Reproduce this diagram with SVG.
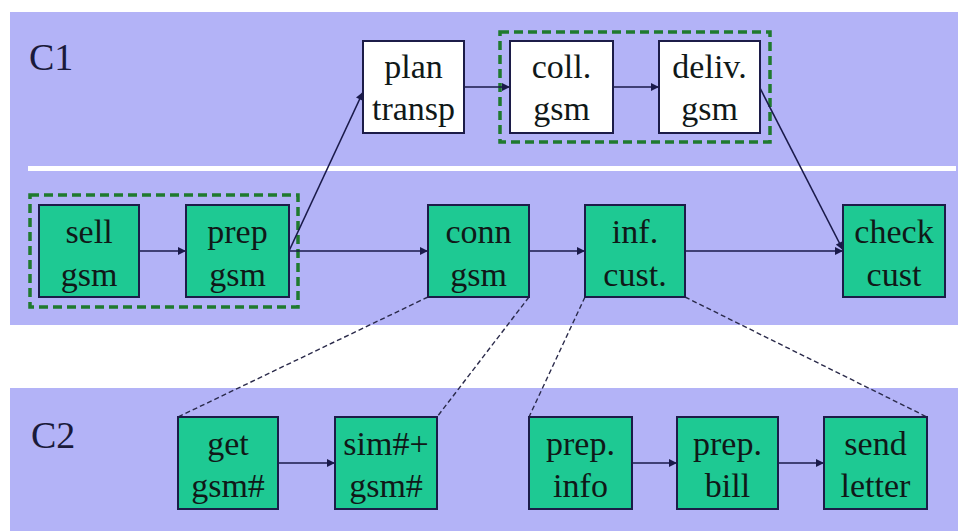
<svg xmlns="http://www.w3.org/2000/svg" width="958" height="531" viewBox="0 0 958 531">
<defs>
<marker id="ah" viewBox="0 0 10 10" refX="10" refY="5" markerWidth="9" markerHeight="8" orient="auto" markerUnits="userSpaceOnUse">
<path d="M0,0 L10,5 L0,10 z" fill="#1a1a4a"/>
</marker>
<style>
.band{fill:#b3b3f7}
.n rect{stroke:#1c1c48;stroke-width:2}
.g rect{fill:#1ec993}
.w rect{fill:#ffffff}
text{font-family:'Times New Roman','Liberation Serif',Tinos,'Nimbus Roman','Nimbus Roman No9 L',FreeSerif,'Noto Serif','DejaVu Serif',Times,serif}
.n text{font-size:34px;text-anchor:middle;fill:#101818}
.lbl{font-size:38px;fill:#1a1a3a}
.flow{stroke:#1a1a4a;stroke-width:1.6;fill:none;marker-end:url(#ah)}
.dec{stroke:#2a2a4a;stroke-width:1.4;fill:none;stroke-dasharray:5,3}
.grp{fill:none;stroke:#1f7a2e;stroke-width:3.5;stroke-dasharray:9,5}
</style>
</defs>
<rect width="958" height="531" fill="#ffffff"/>
<rect class="band" x="10" y="12" width="948" height="313"/>
<rect x="28" y="166" width="928" height="5" fill="#ffffff"/>
<rect class="band" x="10" y="388" width="948" height="143"/>
<text class="lbl" x="29" y="70">C1</text>
<text class="lbl" x="31" y="448">C2</text>
<g id="groups">
<rect class="grp" x="500" y="32" width="270" height="110"/>
<rect class="grp" x="30" y="195" width="268" height="112"/>
</g>
<g id="connectors">
<line class="flow" x1="139" y1="251" x2="186" y2="251"/>
<line class="flow" x1="289" y1="251" x2="428" y2="251"/>
<line class="flow" x1="289" y1="251" x2="363" y2="92"/>
<line class="flow" x1="464" y1="87" x2="510" y2="87"/>
<line class="flow" x1="613" y1="87" x2="659" y2="87"/>
<line class="flow" x1="760" y1="88" x2="843" y2="250"/>
<line class="flow" x1="529" y1="251" x2="585" y2="251"/>
<line class="flow" x1="685" y1="251" x2="843" y2="251"/>
<line class="flow" x1="278" y1="463" x2="335" y2="463"/>
<line class="flow" x1="632" y1="463" x2="677" y2="463"/>
<line class="flow" x1="778" y1="463" x2="824" y2="463"/>
<line class="dec" x1="428" y1="297" x2="178" y2="417"/>
<line class="dec" x1="529" y1="297" x2="437" y2="417"/>
<line class="dec" x1="585" y1="297" x2="529" y2="417"/>
<line class="dec" x1="685" y1="297" x2="927" y2="417"/>
</g>
<g id="plan-transp" class="n w"><rect x="363" y="41" width="101" height="92"/><text x="413.5" y="78">plan</text><text x="413.5" y="120">transp</text></g>
<g id="coll-gsm" class="n w"><rect x="510" y="41" width="103" height="92"/><text x="561.5" y="78">coll.</text><text x="561.5" y="120">gsm</text></g>
<g id="deliv-gsm" class="n w"><rect x="659" y="41" width="101" height="92"/><text x="709.5" y="78">deliv.</text><text x="709.5" y="120">gsm</text></g>
<g id="sell-gsm" class="n g"><rect x="39" y="205" width="100" height="92"/><text x="89" y="243">sell</text><text x="89" y="286">gsm</text></g>
<g id="prep-gsm" class="n g"><rect x="186" y="205" width="103" height="92"/><text x="237.5" y="243">prep</text><text x="237.5" y="286">gsm</text></g>
<g id="conn-gsm" class="n g"><rect x="428" y="205" width="101" height="92"/><text x="478.5" y="243">conn</text><text x="478.5" y="286">gsm</text></g>
<g id="inf-cust" class="n g"><rect x="585" y="205" width="100" height="92"/><text x="635" y="243">inf.</text><text x="635" y="286">cust.</text></g>
<g id="check-cust" class="n g"><rect x="843" y="205" width="102" height="92"/><text x="894" y="243">check</text><text x="894" y="286">cust</text></g>
<g id="get-gsm" class="n g"><rect x="178" y="417" width="100" height="92"/><text x="228" y="455">get</text><text x="228" y="497">gsm#</text></g>
<g id="sim-gsm" class="n g"><rect x="335" y="417" width="102" height="92"/><text x="386" y="455">sim#+</text><text x="386" y="497">gsm#</text></g>
<g id="prep-info" class="n g"><rect x="529" y="417" width="103" height="92"/><text x="580.5" y="455">prep.</text><text x="580.5" y="497">info</text></g>
<g id="prep-bill" class="n g"><rect x="677" y="417" width="101" height="92"/><text x="727.5" y="455">prep.</text><text x="727.5" y="497">bill</text></g>
<g id="send-letter" class="n g"><rect x="824" y="417" width="103" height="92"/><text x="875.5" y="455">send</text><text x="875.5" y="497">letter</text></g>
</svg>
